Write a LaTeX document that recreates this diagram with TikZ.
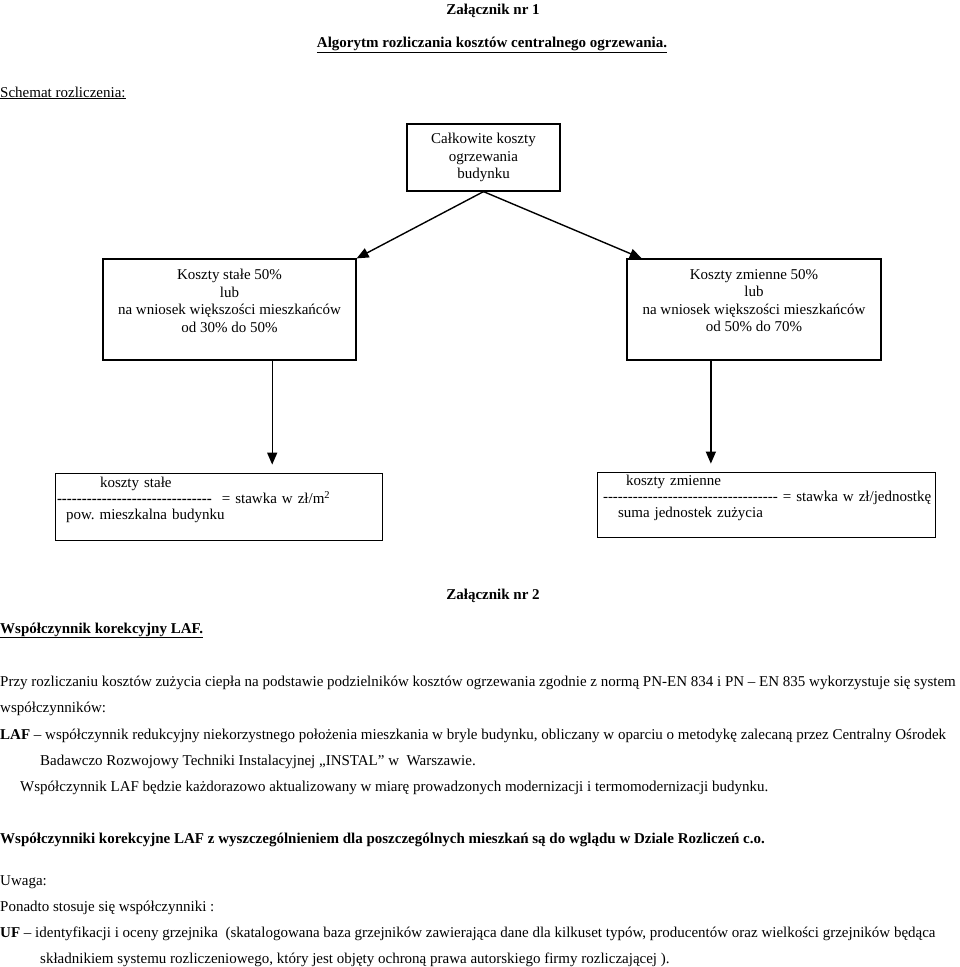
\documentclass[tikz,border=0pt]{standalone}
\usepackage{fontspec}
\setmainfont{Liberation Serif}
\usepackage{tikz}
\usetikzlibrary{arrows.meta,positioning,calc}
\newcommand{\dashrow}[1]{\foreach \k in {1,...,#1}{-}}
\frenchspacing

\begin{document}
\begin{tikzpicture}[x=1pt,y=-1pt,font=\fontsize{15}{17.5}\selectfont,>={Triangle[length=12pt,width=10pt]},
 box/.style={draw,line width=1.2pt,align=center,inner sep=0pt},
 rate/.style={draw,line width=0.8pt,align=left,inner xsep=2pt,inner ysep=0pt,font=\fontsize{15}{16}\selectfont},
 line/.style={anchor=base west,inner sep=0pt},
 head/.style={anchor=base,inner sep=0pt,font=\fontsize{15}{17}\selectfont\bfseries}]
\useasboundingbox (0,0) rectangle (960,967);
\node[head] (title1) at (493,14) {Załącznik nr 1};
\node[head] (algorithm) at (492,47) {\underline{Algorytm rozliczania kosztów centralnego ogrzewania.}};
\node[line] (schemat) at (0,97) {\underline{Schemat rozliczenia:}};
\node[box,minimum width=153pt,minimum height=67pt] (total) at (483.5,157.5) {Całkowite koszty\\ogrzewania\\budynku};
\node[box,minimum width=253pt,minimum height=101pt] (fixed) at (229.5,309.5) {Koszty stałe 50\%\\lub\\na wniosek większości mieszkańców\\od 30\% do 50\%\\\mbox{}};
\node[box,minimum width=254pt,minimum height=101pt] (variable) at (754,309.5) {Koszty zmienne 50\%\\lub\\na wniosek większości mieszkańców\\od 50\% do 70\%\\\mbox{}};
\node[rate,text width=323pt,minimum height=67pt] (ratefixed) at (218.5,506.5) {\hspace*{43pt}koszty stałe\\\textbf{\dashrow{31}}\ \ = stawka w zł/m\textsuperscript{2}\\\hspace*{9pt}pow. mieszkalna budynku\\\mbox{}};
\node[rate,text width=334pt,minimum height=65pt] (ratevar) at (766,504.5) {\hspace*{27pt}koszty zmienne\\\hspace*{4pt}\dashrow{35} = stawka w zł/jednostkę\\\hspace*{19pt}suma jednostek zużycia\\\mbox{}};
\draw[->,line width=1.4pt] (total.south) -- (fixed.north east);
\draw[->,line width=1.4pt] (total.south) -- ($(variable.north west)!0.06!(variable.north east)$);
\coordinate (fixeddown) at ($(fixed.south west)!0.668!(fixed.south east)$);
\coordinate (vardown) at ($(variable.south west)!0.331!(variable.south east)$);
\draw[->,line width=1.4pt,shorten >=8pt] (fixeddown) -- (fixeddown |- ratefixed.north);
\draw[->,line width=1.4pt,shorten >=8pt] (vardown) -- (vardown |- ratevar.north);
\node[head] (title2) at (493,599) {Załącznik nr 2};
\node[line,font=\fontsize{15}{17}\selectfont\bfseries] (laf) at (0,633) {\underline{Współczynnik korekcyjny LAF.}};
\node[line] (przy) at (0,686) {Przy rozliczaniu kosztów zużycia ciepła na podstawie podzielników kosztów ogrzewania zgodnie z normą PN-EN 834 i PN – EN 835 wykorzystuje się system};
\node[line] (wspol) at (0,712) {współczynników:};
\node[line] (lafdef) at (0,739) {\textbf{LAF} – współczynnik redukcyjny niekorzystnego położenia mieszkania w bryle budynku, obliczany w oparciu o metodykę zalecaną przez Centralny Ośrodek};
\node[line] (badawczo) at (40,765) {Badawczo Rozwojowy Techniki Instalacyjnej „INSTAL” w\ \ Warszawie.};
\node[line] (aktual) at (20,791) {Współczynnik LAF będzie każdorazowo aktualizowany w miarę prowadzonych modernizacji i termomodernizacji budynku.};
\node[line,font=\fontsize{15}{17}\selectfont\bfseries] (dzial) at (0,843) {Współczynniki korekcyjne LAF z wyszczególnieniem dla poszczególnych mieszkań są do wglądu w Dziale Rozliczeń c.o.};
\node[line] (uwaga) at (0,885) {Uwaga:};
\node[line] (ponadto) at (0,911) {Ponadto stosuje się współczynniki :};
\node[line] (uf) at (0,937) {\textbf{UF} – identyfikacji i oceny grzejnika\ \ (skatalogowana baza grzejników zawierająca dane dla kilkuset typów, producentów oraz wielkości grzejników będąca};
\node[line] (skladnik) at (40,963) {składnikiem systemu rozliczeniowego, który jest objęty ochroną prawa autorskiego firmy rozliczającej ).};
\end{tikzpicture}
\end{document}
